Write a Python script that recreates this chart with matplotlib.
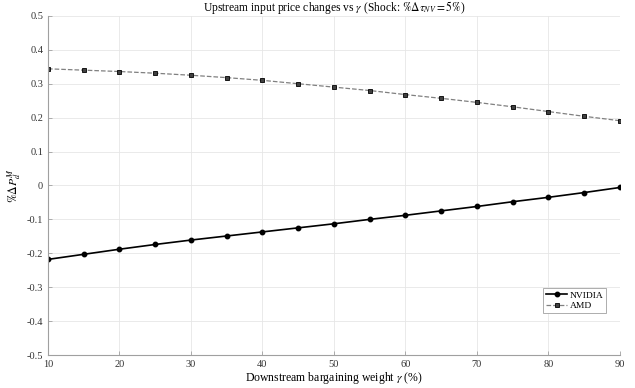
import matplotlib
matplotlib.use('Agg')
import matplotlib.pyplot as plt

# Data
gamma = [10, 15, 20, 25, 30, 35, 40, 45, 50, 55, 60, 65, 70, 75, 80, 85, 90]
nvidia = [-0.218, -0.203, -0.188, -0.174, -0.161, -0.149, -0.137, -0.125, -0.113,
          -0.100, -0.088, -0.075, -0.062, -0.048, -0.035, -0.021, -0.006]
amd = [0.344, 0.340, 0.336, 0.331, 0.325, 0.318, 0.310, 0.300, 0.290,
       0.280, 0.268, 0.257, 0.245, 0.232, 0.218, 0.204, 0.191]

plt.rcParams['font.family'] = ['Liberation Serif', 'DejaVu Serif']
plt.rcParams['mathtext.fontset'] = 'stix'

fig = plt.figure(figsize=(6.35, 3.88), dpi=100)
ax = fig.add_axes([0.0756, 0.085, 0.9004, 0.874])

ax.plot(gamma, nvidia, '-o', color='black', lw=1.2, ms=3.2, label='NVIDIA')
ax.plot(gamma, amd, '--s', color='#808080', lw=0.9, ms=2.8,
        mfc='#404040', mec='black', mew=0.6, label='AMD')

ax.set_xlim(10, 90)
ax.set_ylim(-0.5, 0.5)
ax.set_xticks(range(10, 91, 10))
ax.set_yticks([-0.5, -0.4, -0.3, -0.2, -0.1, 0, 0.1, 0.2, 0.3, 0.4, 0.5])
ax.set_yticklabels(['-0.5', '-0.4', '-0.3', '-0.2', '-0.1', '0', '0.1', '0.2', '0.3', '0.4', '0.5'])
ax.grid(True, color='#e6e6e6', lw=0.6)
ax.set_axisbelow(True)
for s in ['top', 'right']:
    ax.spines[s].set_visible(False)
for s in ['left', 'bottom']:
    ax.spines[s].set_color('#a0a0a0')
    ax.spines[s].set_linewidth(0.8)
ax.tick_params(direction='in', length=3, width=0.6, color='#a0a0a0',
               labelsize=7.5, labelcolor='#333333')

ax.set_title(r'Upstream input price changes vs $\gamma$ (Shock: $\%\Delta\tau_{NV}=5\%$)',
             fontsize=8.3, pad=1.5)
ax.set_xlabel(r'Downstream bargaining weight $\gamma$ (%)', fontsize=8.5, labelpad=1)
ax.set_ylabel(r'$\%\Delta P_d^M$', fontsize=8.5, labelpad=2)

leg = ax.legend(loc='lower right', bbox_to_anchor=(0.985, 0.11), fontsize=6.8,
                fancybox=False, edgecolor='#a0a0a0', framealpha=1,
                handlelength=2.2, borderpad=0.3, labelspacing=0.2, handletextpad=0.3)
leg.get_frame().set_linewidth(0.6)

plt.savefig('out.png', dpi=100)
